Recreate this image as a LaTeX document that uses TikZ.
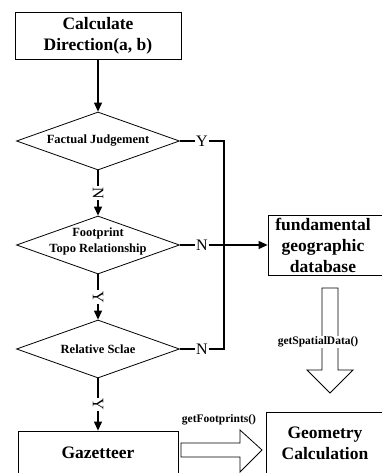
\documentclass[tikz,border=0pt]{standalone}
\usepackage{fontspec}
\setmainfont{Liberation Serif}
\usetikzlibrary{shapes.geometric,arrows.meta}
\tikzstyle{block}=[draw,line width=0.8pt,inner sep=0pt]
\tikzstyle{decision}=[diamond,draw,line width=0.8pt,minimum width=163pt,minimum height=58pt,inner sep=0pt]
\tikzstyle{bigtext}=[font=\bfseries\fontsize{17.5}{21}\selectfont,align=center]
\tikzstyle{smalltext}=[font=\bfseries\fontsize{12.5}{16}\selectfont,align=center]
\tikzstyle{yn}=[fill=white,inner sep=1pt,font=\fontsize{16}{16}\selectfont]
\tikzstyle{ynv}=[fill=white,inner sep=1pt,rotate=-90,font=\fontsize{16}{16}\selectfont]
\tikzstyle{call}=[fill=white,inner sep=1pt,font=\bfseries\fontsize{11.5}{13}\selectfont]

\begin{document}
\begin{tikzpicture}[x=1pt,y=-1pt,>={Triangle[length=9pt,width=8pt]},line width=1.1pt]

      \clip (0,0) rectangle (382,473);

      % left column
      \node[block,minimum width=166pt,minimum height=47pt,bigtext] (calc) at (98,35.5) {Calculate\\Direction(a, b)};

      \node[decision] (fact) at (98,141) {};
      \node[smalltext] (factT) at (fact) {Factual Judgement};
      \node[decision] (topo) at (98,245) {};
      \node[smalltext] (topoT) at (98,241) {Footprint\\Topo Relationship};
      \node[decision] (scale) at (98,349) {};
      \node[smalltext] (scaleT) at (scale) {Relative Sclae};

      \node[block,minimum width=160pt,minimum height=52pt] (gaz) at (98,457) {};
      \node[bigtext] (gazT) at (98,453) {Gazetteer};

      % right column
      \node[block,minimum width=116pt,minimum height=60pt] (fdb) at (326,245) {};
      \node[bigtext] (fdbT) at (323,245) {fundamental\\geographic\\database};
      \node[block,minimum width=118pt,minimum height=70pt] (geo) at (325,447) {};
      \node[bigtext] (geoT) at (325,443) {Geometry\\Calculation};

      \draw[->] (calc) -- (fact);
      \draw[->] (fact) -- node[ynv]{N} (topo);
      \draw[->] (topo) -- node[ynv]{Y} (scale);
      \draw[->] (scale) -- node[ynv]{Y} (gaz);

      \coordinate (j1) at (224,141);
      \coordinate (j3) at (224,349);
      \draw (fact.east) -- node[yn]{Y} (j1) -- (j3) -- node[yn]{N} (scale.east);
      \draw[->] (topo.east) -- node[yn,pos=0.25]{N} (fdb);

      % hollow arrows
      \draw[line width=0.8pt] (322,288) -- (322,370) -- (307,370) -- (330,393) -- (353,370) -- (338,370) -- (338,288) -- cycle;
      \node[call] (spatial) at (318,342) {getSpatialData()};

      \draw[line width=0.8pt] (181,443) -- (240,443) -- (240,430) -- (262,450) -- (240,472) -- (240,457) -- (181,457) -- cycle;
      \node[call,fill=none] (foot) at (219,420) {getFootprints()};

\end{tikzpicture}
\end{document}
